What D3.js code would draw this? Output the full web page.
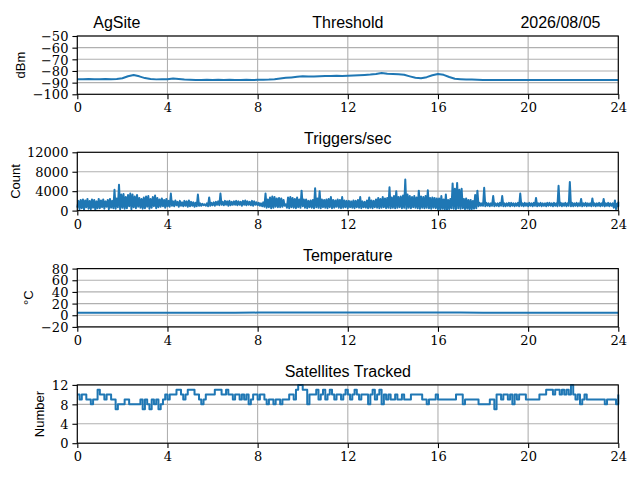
<!DOCTYPE html>
<html>
<head>
<meta charset="utf-8">
<script src="https://cdn.jsdelivr.net/npm/d3@7"></script>
<style>
  body { margin: 0; background: #fff; }
  .tick text { font-family: "DejaVu Serif", serif; font-size: 13px; fill: #000; }
  .ttl { font-family: "Liberation Sans", sans-serif; font-size: 16px; fill: #000; }
  .ylab { font-family: "Liberation Sans", sans-serif; font-size: 13px; fill: #000; }
</style>
</head>
<body>
<div id="plot"></div>
<script>
// Data (hours on x)
const xTicks = [0, 4, 8, 12, 16, 20, 24];

// Threshold, dBm, every 0.25 h
const thresholdStep = 0.25;
const threshold = [
  -87.0, -87.1, -86.9, -87.0, -87.1, -86.9, -87.0, -86.8,
  -86.2, -84.5, -83.5, -84.6, -86.1, -86.8, -87.2, -87.0,
  -87.1, -86.4, -86.9, -87.4, -87.6, -87.7, -87.7, -87.6,
  -87.7, -87.6, -87.7, -87.6, -87.7, -87.7, -87.6, -87.7,
  -87.6, -87.5, -87.4, -87.0, -86.4, -85.9, -85.5, -85.0,
  -84.6, -84.7, -84.8, -84.5, -84.4, -84.2, -84.1, -84.2,
  -84.0, -83.8, -83.6, -83.4, -83.1, -82.6, -81.7, -82.4,
  -82.5, -82.8, -83.3, -84.6, -85.8, -86.2, -85.3, -83.7,
  -82.6, -83.3, -85.2, -86.6, -87.0, -87.3, -87.4, -87.6,
  -87.8, -87.7, -87.8, -87.8, -87.7, -87.8, -87.8, -87.7,
  -87.8, -87.8, -87.7, -87.8, -87.8, -87.7, -87.8, -87.8,
  -87.7, -87.8, -87.8, -87.7, -87.8, -87.8, -87.7, -87.8,
  -87.8
];
const thresholdTicks = [-100, -90, -80, -70, -60, -50];

// Triggers per second: min and max of each 0.1 h bin (one row per hour)
const triggersStep = 0.1;
const triggersLow = [
  600, 300, 500, 200, 700, 400, 300, 600, 100, 500,
  500, 700, 400, 800, 300, 600, 500, 400, 700, 300,
  600, 400, 500, 900, 300, 700, 500, 800, 600, 400,
  500, 800, 400, 600, 900, 500, 700, 800, 900, 600,
  900, 800, 1000, 900, 1100, 800, 1000, 900, 1000, 800,
  900, 1000, 800, 900, 1000, 1000, 1100, 1000, 900, 1000,
  1100, 1000, 1200, 1100, 1200, 1100, 1200, 1000, 1100, 1200,
  1200, 1100, 1200, 1000, 1200, 1100, 1200, 1100, 1000, 1200,
  1100, 1000, 900, 800, 600, 700, 500, 600, 800, 700,
  700, 800, 1000, 600, 500, 700, 600, 500, 700, 600,
  900, 600, 500, 700, 600, 500, 700, 600, 500, 700,
  600, 500, 700, 500, 600, 800, 600, 500, 600, 700,
  500, 700, 600, 500, 700, 600, 500, 700, 600, 500,
  600, 500, 700, 600, 500, 600, 700, 500, 600, 500,
  600, 500, 600, 700, 500, 600, 400, 600, 500, 700,
  600, 500, 400, 600, 500, 600, 500, 400, 600, 500,
  300, 200, 400, 100, 200, 300, 500, 400, 300, 500,
  400, 500, 300, 400, 200, 300, 400, 500, 900, 1000,
  1000, 900, 1000, 900, 1000, 900, 1000, 900, 1000, 900,
  900, 1000, 900, 1000, 900, 1000, 900, 1000, 900, 1000,
  900, 1000, 900, 1000, 900, 1000, 900, 1000, 900, 1000,
  1000, 900, 1000, 900, 1000, 900, 1000, 900, 1000, 900,
  900, 1000, 900, 1000, 900, 1000, 900, 1000, 900, 1000,
  900, 1000, 900, 1000, 900, 1000, 900, 1000, 600, 300,
  900
];
const triggersHigh = [
  2000, 2200, 2300, 2100, 2400, 2000, 2300, 2200, 1900, 2400,
  2100, 2300, 1900, 2200, 2400, 2000, 4300, 2500, 5300, 3300,
  3400, 2800, 3200, 3500, 3300, 2900, 3200, 2600, 2400, 2700,
  2900, 3000, 2400, 2800, 3100, 2600, 2300, 2500, 2200, 2400,
  2000, 3500, 1900, 2100, 1800, 2000, 1700, 2000, 1900, 2100,
  1800, 1700, 1600, 3300, 1500, 1400, 1300, 1500, 2700, 1600,
  1700, 1800, 1900, 3500, 1800, 2000, 1900, 2000, 1800, 1900,
  2000, 1900, 1800, 2000, 2100, 1900, 1800, 2000, 1900, 1700,
  1600, 1500, 1700, 3500, 2300, 2700, 2900, 2800, 2500, 2600,
  2500, 2200, 1300, 2700, 2800, 2600, 2400, 2700, 2300, 4100,
  2300, 2300, 2000, 2100, 2200, 4600, 2500, 4000, 2300, 2200,
  2300, 2400, 2800, 2200, 2100, 2300, 2200, 2800, 2100, 2000,
  2000, 1900, 2100, 2000, 2200, 2800, 1900, 1800, 2100, 2700,
  2100, 2000, 2300, 2600, 2400, 2800, 2500, 2600, 4800, 2700,
  3000, 4000, 2800, 2900, 3100, 6400, 3300, 3000, 2800, 3000,
  2700, 4100, 2900, 2800, 3000, 4200, 2600, 2700, 2600, 2500,
  2500, 3000, 2300, 3300, 2200, 2400, 5600, 4500, 5700, 4300,
  4500, 2400, 2500, 2200, 2200, 2000, 3200, 4100, 1600, 1500,
  4700, 1600, 1500, 1500, 3000, 1500, 1500, 1600, 3000, 1500,
  1500, 1600, 1600, 1500, 1500, 1600, 3500, 1500, 1600, 1500,
  1600, 1500, 1600, 2600, 1500, 1600, 1500, 1500, 1600, 1600,
  1500, 1600, 1500, 5100, 1600, 1500, 1600, 1500, 5900, 1600,
  1500, 1600, 1500, 2400, 1500, 1600, 1500, 1500, 2500, 1500,
  1500, 1600, 1500, 2400, 1500, 1600, 1500, 1500, 2100, 1400,
  1800
];
const triggersTicks = [0, 4000, 8000, 12000];

// Temperature, degrees C, every hour
const temperatureStep = 1;
const temperature = [
  4.4, 4.3, 4.3, 4.2, 4.2, 4.2, 4.3, 4.4, 4.5, 4.6, 4.6, 4.7,
  4.7, 4.7, 4.6, 4.6, 4.5, 4.5, 4.4, 4.4, 4.3, 4.3, 4.3, 4.3, 4.3
];
const temperatureTicks = [-20, 0, 20, 40, 60, 80];

// Satellites tracked, every 0.1 h
const satellitesStep = 0.1;
const satellites = [
  10, 9, 10, 10, 9, 9, 8, 9, 9, 11,
  10, 10, 9, 10, 10, 9, 9, 7, 8, 8,
  8, 9, 9, 8, 8, 8, 8, 8, 9, 7,
  9, 8, 7, 9, 8, 9, 7, 8, 9, 10,
  9, 10, 10, 10, 11, 11, 10, 9, 10, 11,
  11, 11, 10, 10, 9, 8, 9, 10, 10, 10,
  10, 11, 11, 11, 10, 10, 11, 10, 10, 9,
  10, 10, 9, 10, 9, 10, 8, 9, 10, 10,
  9, 10, 10, 9, 8, 9, 9, 8, 9, 9,
  8, 9, 9, 9, 10, 10, 9, 11, 12, 12,
  11, 11, 8, 10, 10, 10, 11, 9, 10, 11,
  9, 10, 11, 10, 9, 10, 10, 9, 10, 11,
  10, 9, 10, 11, 10, 9, 10, 10, 10, 8,
  10, 11, 9, 10, 11, 8, 10, 9, 10, 9,
  9, 10, 9, 9, 10, 9, 9, 9, 10, 10,
  10, 10, 10, 9, 9, 8, 9, 9, 9, 10,
  9, 9, 9, 9, 9, 9, 9, 9, 10, 10,
  10, 8, 9, 9, 9, 9, 9, 9, 8, 8,
  8, 8, 8, 9, 9, 7, 10, 10, 9, 10,
  10, 9, 10, 8, 10, 9, 10, 10, 10, 9,
  9, 9, 9, 9, 9, 10, 10, 10, 11, 11,
  11, 10, 11, 11, 10, 11, 10, 11, 10, 12,
  10, 9, 10, 8, 9, 10, 9, 9, 9, 9,
  9, 9, 9, 9, 8, 9, 9, 9, 9, 8,
  10
];
const satellitesTicks = [0, 4, 8, 12];

// turn a regular series into {t, v} points
const series = (values, step) => values.map((v, j) => ({ t: j * step, v }));

// triggers: low then high of each bin, half a bin apart
const triggerPoints = triggersLow.flatMap((lo, j) => [
  { t: j * triggersStep, v: lo },
  { t: Math.min(24, j * triggersStep + triggersStep / 2), v: triggersHigh[j] }
]);

// Panels (layout only)
const panels = [
  { title: "Threshold", ylabel: "dBm", points: series(threshold, thresholdStep), ticks: thresholdTicks, curve: d3.curveLinear },
  { title: "Triggers/sec", ylabel: "Count", points: triggerPoints, ticks: triggersTicks, curve: d3.curveLinear },
  { title: "Temperature", ylabel: "\u00B0C", points: series(temperature, temperatureStep), ticks: temperatureTicks, curve: d3.curveLinear },
  { title: "Satellites Tracked", ylabel: "Number", points: series(satellites, satellitesStep), ticks: satellitesTicks, curve: d3.curveStepAfter }
];

const W = 640, H = 480;
const left = 77.3, right = 618.3;
const firstTop = 36, gap = 116.3, ph = 58.3;
const pw = right - left;
const blue = "#1f77b4";

const svg = d3.select("#plot")
  .append("svg")
    .attr("width", W)
    .attr("height", H)
    .style("background", "#fff");

const x = d3.scaleLinear().domain([0, 24]).range([0, pw]);

panels.forEach((p, i) => {
  const top = firstTop + i * gap;
  const y = d3.scaleLinear().domain(d3.extent(p.ticks)).range([ph, 0]);

  const g = svg.append("g").attr("transform", `translate(${left},${top})`);

  // grid
  g.append("g").selectAll("line").data(xTicks).join("line")
    .attr("x1", d => x(d)).attr("x2", d => x(d))
    .attr("y1", 0).attr("y2", ph)
    .attr("stroke", "#b0b0b0").attr("stroke-width", 1.1);
  g.append("g").selectAll("line").data(p.ticks).join("line")
    .attr("x1", 0).attr("x2", pw)
    .attr("y1", d => y(d)).attr("y2", d => y(d))
    .attr("stroke", "#b0b0b0").attr("stroke-width", 1.1);

  // line
  const line = d3.line()
    .x(d => x(Math.min(24, d.t)))
    .y(d => y(d.v))
    .curve(p.curve);
  g.append("path")
    .datum(p.points)
    .attr("fill", "none")
    .attr("stroke", blue)
    .attr("stroke-width", 2)
    .attr("stroke-linejoin", "round")
    .attr("d", line);

  // axes
  const xa = g.append("g")
    .attr("transform", `translate(0,${ph})`)
    .call(d3.axisBottom(x).tickValues(xTicks).tickFormat(d3.format("d")).tickSize(4.9).tickPadding(4));
  const ya = g.append("g")
    .call(d3.axisLeft(y).tickValues(p.ticks).tickFormat(d3.format("d")).tickSize(4.9).tickPadding(4));
  [xa, ya].forEach(a => {
    a.select(".domain").remove();
    a.selectAll(".tick line").attr("stroke", "#000").attr("stroke-width", 1.1);
    a.attr("font-family", null).attr("font-size", null);
  });
  ya.selectAll(".tick text").attr("dy", "0.36em");

  // frame
  g.append("rect")
    .attr("width", pw).attr("height", ph)
    .attr("fill", "none").attr("stroke", "#000").attr("stroke-width", 1.1);

  // title
  g.append("text").attr("class", "ttl")
    .attr("x", pw / 2).attr("y", -8)
    .attr("text-anchor", "middle")
    .text(p.title);

  // y label, placed left of the widest tick label
  let minX = 0;
  ya.selectAll(".tick text").each(function() {
    const b = this.getBBox();
    const t = this.parentNode.transform.baseVal.consolidate();
    const ox = t ? t.matrix.e : 0;
    minX = Math.min(minX, b.x + ox);
  });
  const cx = minX - 12, cy = ph / 2;
  g.append("text").attr("class", "ylab")
    .attr("transform", `translate(${cx + 4.5},${cy}) rotate(-90)`)
    .attr("text-anchor", "middle")
    .text(p.ylabel);
});

// header texts
svg.append("text").attr("class", "ttl")
  .attr("x", 93.3).attr("y", firstTop - 8)
  .text("AgSite");
svg.append("text").attr("class", "ttl")
  .attr("x", 600.5).attr("y", firstTop - 8)
  .attr("text-anchor", "end")
  .text("2026/08/05");
</script>
</body>
</html>
